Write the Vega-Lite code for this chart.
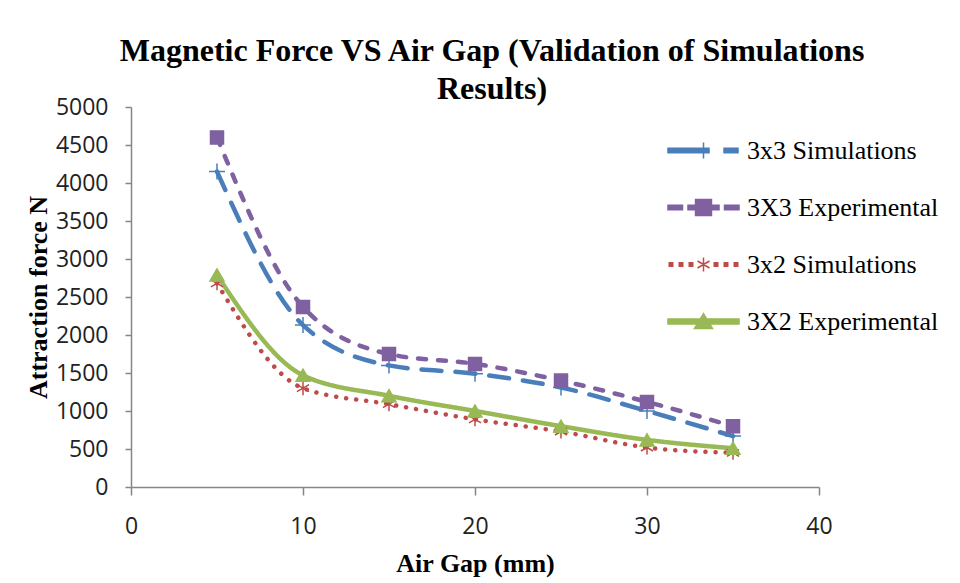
{
  "$schema": "https://vega.github.io/schema/vega-lite/v6.json",
  "autosize": "none",
  "width": 688,
  "height": 380,
  "padding": {"left": 131, "top": 107, "right": 141, "bottom": 96},
  "background": "white",
  "title": {
    "text": ["Magnetic Force VS Air Gap (Validation of Simulations", "Results)"],
    "font": "Liberation Serif",
    "fontSize": 32,
    "fontWeight": "bold",
    "lineHeight": 38,
    "color": "#000000",
    "anchor": "middle",
    "dx": 17,
    "offset": -10
  },
  "data": {
    "values": [
      {"gap": 5, "series": "3x3 Simulations", "force": 4150},
      {"gap": 10, "series": "3x3 Simulations", "force": 2130},
      {"gap": 15, "series": "3x3 Simulations", "force": 1600},
      {"gap": 20, "series": "3x3 Simulations", "force": 1490},
      {"gap": 25, "series": "3x3 Simulations", "force": 1310},
      {"gap": 30, "series": "3x3 Simulations", "force": 1000},
      {"gap": 35, "series": "3x3 Simulations", "force": 670},
      {"gap": 5, "series": "3X3 Experimental", "force": 4600},
      {"gap": 10, "series": "3X3 Experimental", "force": 2370},
      {"gap": 15, "series": "3X3 Experimental", "force": 1750},
      {"gap": 20, "series": "3X3 Experimental", "force": 1620},
      {"gap": 25, "series": "3X3 Experimental", "force": 1400},
      {"gap": 30, "series": "3X3 Experimental", "force": 1120},
      {"gap": 35, "series": "3X3 Experimental", "force": 800},
      {"gap": 5, "series": "3x2 Simulations", "force": 2680},
      {"gap": 10, "series": "3x2 Simulations", "force": 1300},
      {"gap": 15, "series": "3x2 Simulations", "force": 1090},
      {"gap": 20, "series": "3x2 Simulations", "force": 890},
      {"gap": 25, "series": "3x2 Simulations", "force": 730},
      {"gap": 30, "series": "3x2 Simulations", "force": 520},
      {"gap": 35, "series": "3x2 Simulations", "force": 450},
      {"gap": 5, "series": "3X2  Experimental", "force": 2790},
      {"gap": 10, "series": "3X2  Experimental", "force": 1470},
      {"gap": 15, "series": "3X2  Experimental", "force": 1200},
      {"gap": 20, "series": "3X2  Experimental", "force": 1000},
      {"gap": 25, "series": "3X2  Experimental", "force": 800},
      {"gap": 30, "series": "3X2  Experimental", "force": 620},
      {"gap": 35, "series": "3X2  Experimental", "force": 510}
    ]
  },
  "encoding": {
    "x": {
      "field": "gap",
      "type": "quantitative",
      "scale": {"domain": [0, 40], "nice": false, "zero": true},
      "axis": {
        "title": "Air Gap (mm)",
        "values": [0, 10, 20, 30, 40],
        "format": "d",
        "grid": false,
        "domainColor": "#868686",
        "domainWidth": 1.5,
        "tickColor": "#868686",
        "tickWidth": 1.5,
        "tickSize": 8,
        "labelFont": "Open Sans",
        "labelFontSize": 23,
        "labelColor": "#222222",
        "labelPadding": 20,
        "labelFlush": false,
        "titleFont": "Liberation Serif",
        "titleFontSize": 26,
        "titleFontWeight": "bold",
        "titleColor": "#000000",
        "titlePadding": 12
      }
    },
    "y": {
      "field": "force",
      "type": "quantitative",
      "scale": {"domain": [0, 5000], "nice": false},
      "axis": {
        "title": "Attraction force N",
        "values": [0, 500, 1000, 1500, 2000, 2500, 3000, 3500, 4000, 4500, 5000],
        "format": "d",
        "grid": false,
        "domainColor": "#868686",
        "domainWidth": 1.5,
        "tickColor": "#868686",
        "tickWidth": 1.5,
        "tickSize": 6,
        "labelFont": "Open Sans",
        "labelFontSize": 23,
        "labelColor": "#222222",
        "labelPadding": 17,
        "labelFlush": false,
        "titleFont": "Liberation Serif",
        "titleFontSize": 26,
        "titleFontWeight": "bold",
        "titleColor": "#000000",
        "titlePadding": 4
      }
    }
  },
  "layer": [
    {
      "mark": {"type": "line", "interpolate": "monotone", "strokeWidth": 4.5, "strokeCap": "round"},
      "encoding": {
        "detail": {"field": "series"},
        "color": {
          "field": "series",
          "type": "nominal",
          "scale": {
            "domain": ["3X2  Experimental", "3x2 Simulations", "3X3 Experimental", "3x3 Simulations"],
            "range": ["#98B954", "#BE4B48", "#7F60A0", "#4A7EBB"]
          },
          "legend": null
        },
        "strokeDash": {
          "field": "series",
          "type": "nominal",
          "scale": {
            "domain": ["3X2  Experimental", "3x2 Simulations", "3X3 Experimental", "3x3 Simulations"],
            "range": [[1, 0], [0.1, 10], [8, 12], [20, 14]]
          },
          "legend": null
        }
      }
    },
    {
      "transform": [{"filter": "datum.series == '3x3 Simulations'"}],
      "mark": {"type": "point", "shape": "M-1,0H1M0,-1V1", "size": 256, "filled": false, "stroke": "#4A7EBB", "strokeWidth": 1.5, "opacity": 1}
    },
    {
      "transform": [{"filter": "datum.series == '3X3 Experimental'"}],
      "mark": {"type": "point", "shape": "square", "size": 169, "filled": true, "fill": "#7F60A0", "stroke": "#7F60A0", "strokeWidth": 1.5, "opacity": 1}
    },
    {
      "transform": [{"filter": "datum.series == '3x2 Simulations'"}],
      "mark": {"type": "point", "shape": "M0,-1V1M-0.87,-0.5L0.87,0.5M-0.87,0.5L0.87,-0.5", "size": 196, "filled": false, "stroke": "#BE4B48", "strokeWidth": 1.5, "opacity": 1}
    },
    {
      "transform": [{"filter": "datum.series == '3X2  Experimental'"}],
      "mark": {"type": "point", "shape": "triangle-up", "size": 196, "filled": true, "fill": "#98B954", "stroke": "#98B954", "strokeWidth": 1.5, "opacity": 1}
    },
    {
      "mark": {"type": "point", "filled": true, "strokeWidth": 1.5, "opacity": 0},
      "encoding": {
        "fill": {
          "field": "series",
          "type": "nominal",
          "scale": {
            "domain": ["3x3 Simulations", "3X3 Experimental", "3x2 Simulations", "3X2  Experimental"],
            "range": ["#4A7EBB", "#7F60A0", "#BE4B48", "#98B954"]
          }
        },
        "stroke": {
          "field": "series",
          "type": "nominal",
          "scale": {
            "domain": ["3x3 Simulations", "3X3 Experimental", "3x2 Simulations", "3X2  Experimental"],
            "range": ["#4A7EBB", "#7F60A0", "#BE4B48", "#98B954"]
          }
        },
        "shape": {
          "field": "series",
          "type": "nominal",
          "scale": {
            "domain": ["3x3 Simulations", "3X3 Experimental", "3x2 Simulations", "3X2  Experimental"],
            "range": [
              "M-1.246,-0.08H0.193V0.08H-1.246ZM0.72,-0.08H1.21V0.08H0.72ZM0,-0.28V0.28",
              "M-1.246,-0.08H-0.737V0.08H-1.246ZM-0.544,-0.08H0.544V0.08H-0.544ZM0.737,-0.08H1.246V0.08H0.737ZM-0.28,-0.28H0.28V0.28H-0.28Z",
              "M-1.202,-0.06H-1.079V0.06H-1.202ZM-0.851,-0.06H-0.728V0.06H-0.851ZM-0.5,-0.06H-0.377V0.06H-0.5ZM0.377,-0.06H0.5V0.06H0.377ZM0.728,-0.06H0.851V0.06H0.728ZM1.079,-0.06H1.202V0.06H1.079ZM0,-0.245V0.245M-0.21,-0.123L0.21,0.123M-0.21,0.123L0.21,-0.123",
              "M-1.246,-0.088H1.246V0.088H-1.246ZM-0.316,0.245L0,-0.27L0.316,0.245Z"
            ]
          }
        }
      }
    }
  ],
  "config": {
    "view": {"stroke": null},
    "legend": {
      "title": null,
      "orient": "none",
      "legendX": 543,
      "legendY": 14,
      "padding": 0,
      "symbolSize": 3249,
      "symbolStrokeWidth": 1.5,
      "symbolOpacity": 1,
      "labelFont": "Liberation Serif",
      "labelFontSize": 26,
      "labelColor": "#000000",
      "labelOffset": 14,
      "labelLimit": 300,
      "rowPadding": 14
    }
  }
}
